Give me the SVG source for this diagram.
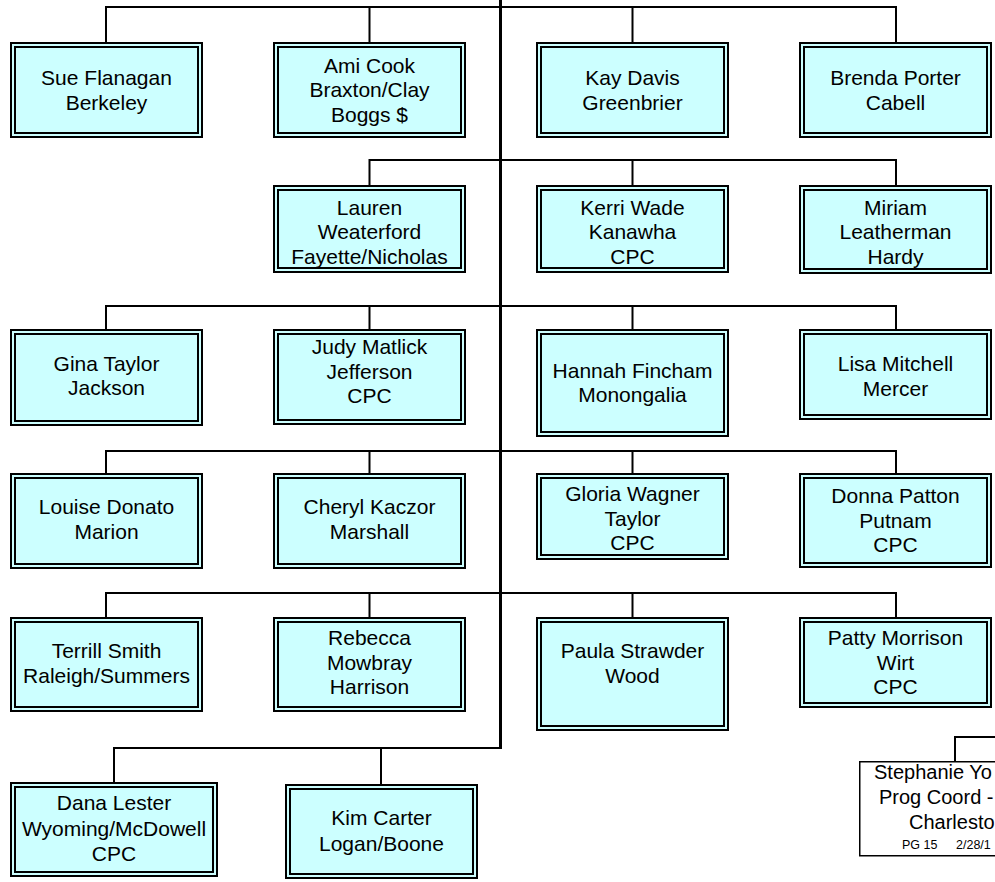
<svg xmlns="http://www.w3.org/2000/svg" width="995" height="882" viewBox="0 0 995 882">
<style>
.o{fill:#CCFFFF;stroke:#000;stroke-width:2}
.i{fill:none;stroke:#000;stroke-width:2}
.c{fill:none;stroke:#000;stroke-width:2}
.t{fill:none;stroke:#000;stroke-width:3}
text{font-family:"Liberation Sans",Arial,sans-serif;font-size:21px;fill:#000;text-anchor:middle}
.s20{font-size:20px}
.sm{font-size:12.5px}
.st{text-anchor:start}
</style>
<rect width="995" height="882" fill="#fff"/>
<g id="connectors">
<line class="t" x1="500.5" y1="0" x2="500.5" y2="749"/>
<path class="c" d="M106 42V7H896V42M369.5 7V42M632.5 7V42"/>
<path class="c" d="M369.5 185V160H896V185M632.5 160V185"/>
<path class="c" d="M106 329V306H896V329M369.5 306V329M632.5 306V329"/>
<path class="c" d="M106 473V451H896V473M369.5 451V473M632.5 451V473"/>
<path class="c" d="M106 617V593H896V617M369.5 593V617M632.5 593V617"/>
<path class="c" d="M114 782V748H500M381 748V784"/>
<path class="c" d="M955 761V737H996"/>
</g>
<g id="n1"><rect class="o" x="11" y="43" width="191" height="94"/><rect class="i" x="15" y="47" width="183" height="86"/><text x="106.5" y="85">Sue Flanagan</text><text x="106.5" y="109.5">Berkeley</text></g>
<g id="n2"><rect class="o" x="274" y="43" width="191" height="94"/><rect class="i" x="278" y="47" width="183" height="86"/><text x="369.5" y="72.5">Ami Cook</text><text x="369.5" y="97">Braxton/Clay</text><text x="369.5" y="121.5">Boggs $</text></g>
<g id="n3"><rect class="o" x="537" y="43" width="191" height="94"/><rect class="i" x="541" y="47" width="183" height="86"/><text x="632.5" y="85">Kay Davis</text><text x="632.5" y="109.5">Greenbrier</text></g>
<g id="n4"><rect class="o" x="800" y="43" width="191" height="94"/><rect class="i" x="804" y="47" width="183" height="86"/><text x="895.5" y="85">Brenda Porter</text><text x="895.5" y="109.5">Cabell</text></g>
<g id="n5"><rect class="o" x="274" y="186" width="191" height="86"/><rect class="i" x="278" y="190" width="183" height="78"/><text x="369.5" y="214.5">Lauren</text><text x="369.5" y="239">Weaterford</text><text x="369.5" y="263.5">Fayette/Nicholas</text></g>
<g id="n6"><rect class="o" x="537" y="186" width="191" height="86"/><rect class="i" x="541" y="190" width="183" height="78"/><text x="632.5" y="214.5">Kerri Wade</text><text x="632.5" y="239">Kanawha</text><text x="632.5" y="263.5">CPC</text></g>
<g id="n7"><rect class="o" x="800" y="186" width="191" height="87"/><rect class="i" x="804" y="190" width="183" height="79"/><text x="895.5" y="214.5">Miriam</text><text x="895.5" y="239">Leatherman</text><text x="895.5" y="263.5">Hardy</text></g>
<g id="n8"><rect class="o" x="11" y="330" width="191" height="95"/><rect class="i" x="15" y="334" width="183" height="87"/><text x="106.5" y="370.5">Gina Taylor</text><text x="106.5" y="395">Jackson</text></g>
<g id="n9"><rect class="o" x="274" y="330" width="191" height="94"/><rect class="i" x="278" y="334" width="183" height="86"/><text x="369.5" y="354">Judy Matlick</text><text x="369.5" y="378.5">Jefferson</text><text x="369.5" y="403">CPC</text></g>
<g id="n10"><rect class="o" x="537" y="330" width="191" height="106"/><rect class="i" x="541" y="334" width="183" height="98"/><text x="632.5" y="377.5">Hannah Fincham</text><text x="632.5" y="402">Monongalia</text></g>
<g id="n11"><rect class="o" x="800" y="330" width="191" height="89"/><rect class="i" x="804" y="334" width="183" height="81"/><text x="895.5" y="371">Lisa Mitchell</text><text x="895.5" y="395.5">Mercer</text></g>
<g id="n12"><rect class="o" x="11" y="474" width="191" height="94"/><rect class="i" x="15" y="478" width="183" height="86"/><text x="106.5" y="514">Louise Donato</text><text x="106.5" y="538.5">Marion</text></g>
<g id="n13"><rect class="o" x="274" y="474" width="191" height="94"/><rect class="i" x="278" y="478" width="183" height="86"/><text x="369.5" y="514">Cheryl Kaczor</text><text x="369.5" y="538.5">Marshall</text></g>
<g id="n14"><rect class="o" x="537" y="474" width="191" height="85"/><rect class="i" x="541" y="478" width="183" height="77"/><text x="632.5" y="501">Gloria Wagner</text><text x="632.5" y="525.5">Taylor</text><text x="632.5" y="550">CPC</text></g>
<g id="n15"><rect class="o" x="800" y="474" width="191" height="93"/><rect class="i" x="804" y="478" width="183" height="85"/><text x="895.5" y="503">Donna Patton</text><text x="895.5" y="527.5">Putnam</text><text x="895.5" y="552">CPC</text></g>
<g id="n16"><rect class="o" x="11" y="618" width="191" height="93"/><rect class="i" x="15" y="622" width="183" height="85"/><text x="106.5" y="658">Terrill Smith</text><text x="106.5" y="682.5">Raleigh/Summers</text></g>
<g id="n17"><rect class="o" x="274" y="618" width="191" height="93"/><rect class="i" x="278" y="622" width="183" height="85"/><text x="369.5" y="645">Rebecca</text><text x="369.5" y="669.5">Mowbray</text><text x="369.5" y="694">Harrison</text></g>
<g id="n18"><rect class="o" x="537" y="618" width="191" height="112"/><rect class="i" x="541" y="622" width="183" height="104"/><text x="632.5" y="658">Paula Strawder</text><text x="632.5" y="682.5">Wood</text></g>
<g id="n19"><rect class="o" x="800" y="618" width="191" height="89"/><rect class="i" x="804" y="622" width="183" height="81"/><text x="895.5" y="645">Patty Morrison</text><text x="895.5" y="669.5">Wirt</text><text x="895.5" y="694">CPC</text></g>
<g id="n20"><rect class="o" x="11" y="783" width="206" height="93"/><rect class="i" x="15" y="787" width="198" height="85"/><text x="114" y="810">Dana Lester</text><text x="114" y="835.5">Wyoming/McDowell</text><text x="114" y="861">CPC</text></g>
<g id="n21"><rect class="o" x="286" y="785" width="191" height="93"/><rect class="i" x="290" y="789" width="183" height="85"/><text x="381.5" y="825">Kim Carter</text><text x="381.5" y="850.5">Logan/Boone</text></g>
<g id="n22"><rect x="859.75" y="761.75" width="150" height="94" fill="#fff" stroke="#000" stroke-width="1.5"/><text class="st s20" x="874" y="779">Stephanie Yo</text><text class="st s20" x="879" y="803.5">Prog Coord -</text><text class="st s20" x="909" y="829">Charlesto</text><text class="st sm" x="902" y="849" xml:space="preserve">PG 15  <tspan x="956">2/28/1</tspan></text></g>
</svg>
